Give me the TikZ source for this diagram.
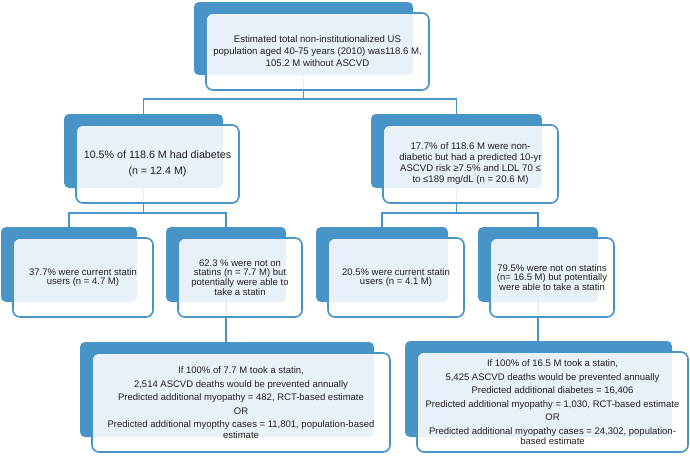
\documentclass[tikz,border=0pt]{standalone}
\usepackage{fontspec}
\setmainfont{Liberation Sans}
\usepackage{tikz}
\usetikzlibrary{calc,positioning}
\definecolor{myblue}{RGB}{72,148,199}
\definecolor{myink}{RGB}{35,31,32}
\tikzstyle{backcard}=[fill=myblue,rounded corners=5pt,inner sep=0pt]
\tikzstyle{card}=[draw=myblue,line width=1.6pt,fill=white,fill opacity=0.88,text opacity=1,rounded corners=7pt,align=center,text=myink,inner sep=2pt]
\tikzstyle{link}=[draw=myblue,line width=1.6pt]
\tikzstyle{smalltext}=[font=\fontsize{9.5}{9.8}\selectfont]
\tikzstyle{gaintext}=[font=\fontsize{9.5}{10.2}\selectfont]

\begin{document}
\begin{tikzpicture}[x=1pt,y=-1pt]
\useasboundingbox (0,0) rectangle (690,455);
% back cards
\draw (303.5,38.5) node [backcard, minimum width=219pt, minimum height=73pt] (topb) {};
\draw (143.5,151) node [backcard, minimum width=159pt, minimum height=74pt] (diabb) {};
\draw (456.5,151) node [backcard, minimum width=171pt, minimum height=74pt] (nondiabb) {};
\draw (69,264.5) node [backcard, minimum width=136pt, minimum height=75pt] (diabuserb) {};
\draw (226,264.5) node [backcard, minimum width=120pt, minimum height=75pt] (diabnonb) {};
\draw (382,264.5) node [backcard, minimum width=132pt, minimum height=75pt] (ndsuserb) {};
\draw (538,264.5) node [backcard, minimum width=120pt, minimum height=75pt] (ndsnonb) {};
\draw (227,389.5) node [backcard, minimum width=294pt, minimum height=95pt] (diabgainb) {};
\draw (538.5,389) node [backcard, minimum width=267pt, minimum height=96pt] (ndsgainb) {};
% connectors
\coordinate (j1) at ($(topb.south)+(0,24)$);
\coordinate (j2) at ($(diabb.south)+(0,25)$);
\coordinate (j3) at ($(nondiabb.south)+(0,25)$);
\draw[link] (topb.south) -- (j1) -| (diabb.north);
\draw[link] (j1) -| (nondiabb.north);
\draw[link] (diabb.south) -- (j2) -| (diabuserb.north);
\draw[link] (j2) -| (diabnonb.north);
\draw[link] (nondiabb.south) -- (j3) -| (ndsuserb.north);
\draw[link] (j3) -| (ndsnonb.north);
\draw[link] (diabnonb.south) -- (diabnonb.south |- diabgainb.north);
\draw[link] (ndsnonb.south) -- (ndsnonb.south |- ndsgainb.north);
% front cards
\draw (317.5,51.5) node [card, minimum width=223pt, minimum height=77pt, font=\fontsize{9.6}{12}\selectfont] (top) {Estimated total non-institutionalized US\\population aged 40-75 years (2010) was118.6 M,\\105.2 M without ASCVD};
\draw (157.5,164) node [card, minimum width=163pt, minimum height=78pt, font=\fontsize{10.7}{16}\selectfont] (diab) {10.5\% of 118.6 M had diabetes\\(n = 12.4 M)};
\draw (470.5,164) node [card, minimum width=175pt, minimum height=78pt, font=\fontsize{9.6}{11}\selectfont] (nondiab) {17.7\% of 118.6 M were non-\\diabetic but had a predicted 10-yr\\ASCVD risk ≥7.5\% and LDL 70 ≤\\to ≤189 mg/dL (n = 20.6 M)};
\draw (83,277.5) node [card, smalltext, minimum width=140pt, minimum height=79pt] (diabuser) {37.7\% were current statin\\users (n = 4.7 M)};
\draw (240,277.5) node [card, smalltext, minimum width=124pt, minimum height=79pt] (diabnon) {62.3 \% were not on\\statins (n = 7.7 M) but\\potentially were able to\\take a statin};
\draw (396,277.5) node [card, smalltext, minimum width=136pt, minimum height=79pt] (ndsuser) {20.5\% were current statin\\users (n = 4.1 M)};
\draw (552,277.5) node [card, smalltext, minimum width=124pt, minimum height=79pt] (ndsnon) {79.5\% were not on statins\\(n= 16.5 M) but potentially\\were able to take a statin};
\draw (241,402.5) node [card, gaintext, minimum width=298pt, minimum height=99pt] (diabgain) {If 100\% of 7.7 M took a statin,\\[3.3pt]2,514 ASCVD deaths would be prevented annually\\[3.3pt]Predicted additional myopathy = 482, RCT-based estimate\\[3.3pt]OR\\[3.3pt]Predicted additional myopthy cases = 11,801, population-based\\estimate};
\draw (552.5,402) node [card, gaintext, minimum width=271pt, minimum height=100pt] (ndsgain) {If 100\% of 16.5 M took a statin,\\[3.3pt]5,425 ASCVD deaths would be prevented annually\\[3.3pt]Predicted additional diabetes = 16,406\\[3.3pt]Predicted additional myopathy = 1,030, RCT-based estimate\\[3.3pt]OR\\[3.3pt]Predicted additional myopathy cases = 24,302, population-\\based estimate};
\end{tikzpicture}
\end{document}
